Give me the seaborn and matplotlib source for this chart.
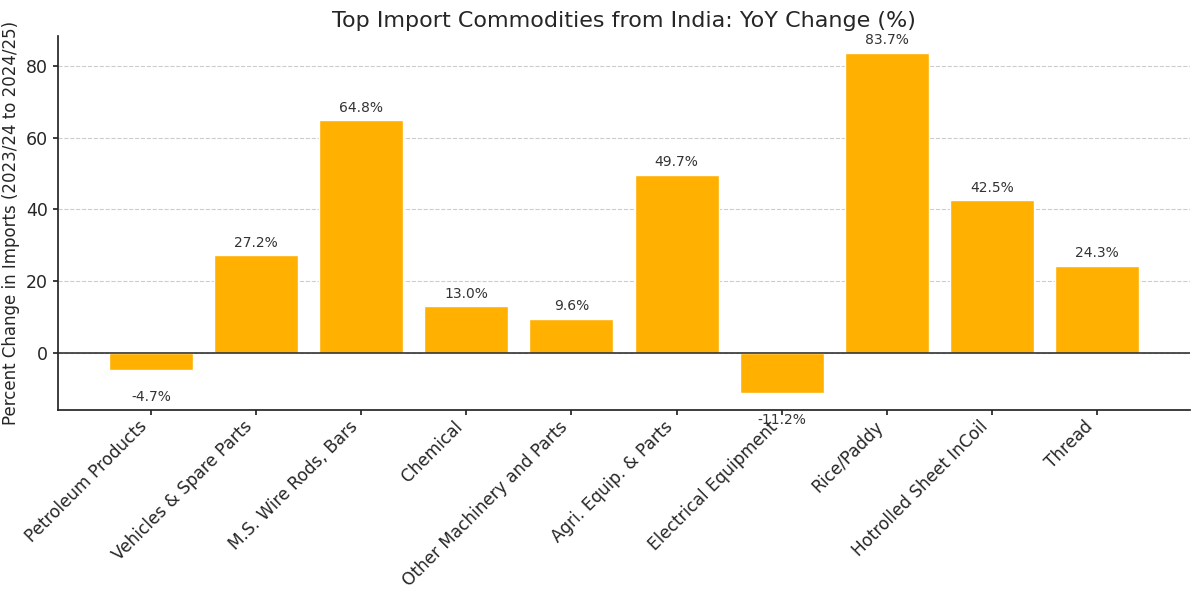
import matplotlib
matplotlib.use("Agg")
import matplotlib.pyplot as plt
import pandas as pd
import seaborn as sns

commodities = [
    "Petroleum Products",
    "Vehicles & Spare Parts",
    "M.S. Wire Rods, Bars",
    "Chemical",
    "Other Machinery and Parts",
    "Agri. Equip. & Parts",
    "Electrical Equipment",
    "Rice/Paddy",
    "Hotrolled Sheet InCoil",
    "Thread",
]
yoy_change = [-4.7, 27.2, 64.8, 13.0, 9.6, 49.7, -11.2, 83.7, 42.5, 24.3]

df = pd.DataFrame({"commodity": commodities, "change": yoy_change})

sns.set_theme(style="ticks")
plt.rcParams["font.family"] = ["DejaVu Sans"]

fig, ax = plt.subplots(figsize=(12, 5.96), dpi=100)
ax.grid(True, linestyle="--", color="#cccccc", linewidth=0.8)
ax.set_axisbelow(True)

sns.barplot(data=df, x="commodity", y="change", color="#FFB000",
            saturation=1, width=0.8, ax=ax)
ax.axhline(0, color="#333333", linewidth=1.2)

for i, v in enumerate(yoy_change):
    if v >= 0:
        ax.text(i, v + 1.5, f"{v:.1f}%", ha="center", va="bottom",
                fontsize=10, color="#333333")
    else:
        ax.text(i, v - 5.5, f"{v:.1f}%", ha="center", va="top",
                fontsize=10, color="#333333")

ax.set_xlim(-0.89, len(commodities) - 1 + 0.89)
ax.set_ylim(-15.9, 88.4)
ax.set_title("Top Import Commodities from India: YoY Change (%)",
             fontsize=16, color="#262626")
ax.set_xlabel("")
ax.set_ylabel("Percent Change in Imports (2023/24 to 2024/25)", fontsize=12,
              color="#262626")
ax.tick_params(axis="both", labelsize=12.5, length=3.5)
ax.tick_params(axis="x", labelsize=12.2, pad=2)
plt.setp(ax.get_xticklabels(), rotation=45, ha="right")
sns.despine(ax=ax)

fig.subplots_adjust(left=0.048, right=0.992, top=0.94, bottom=0.312)
fig.savefig("out.png")
